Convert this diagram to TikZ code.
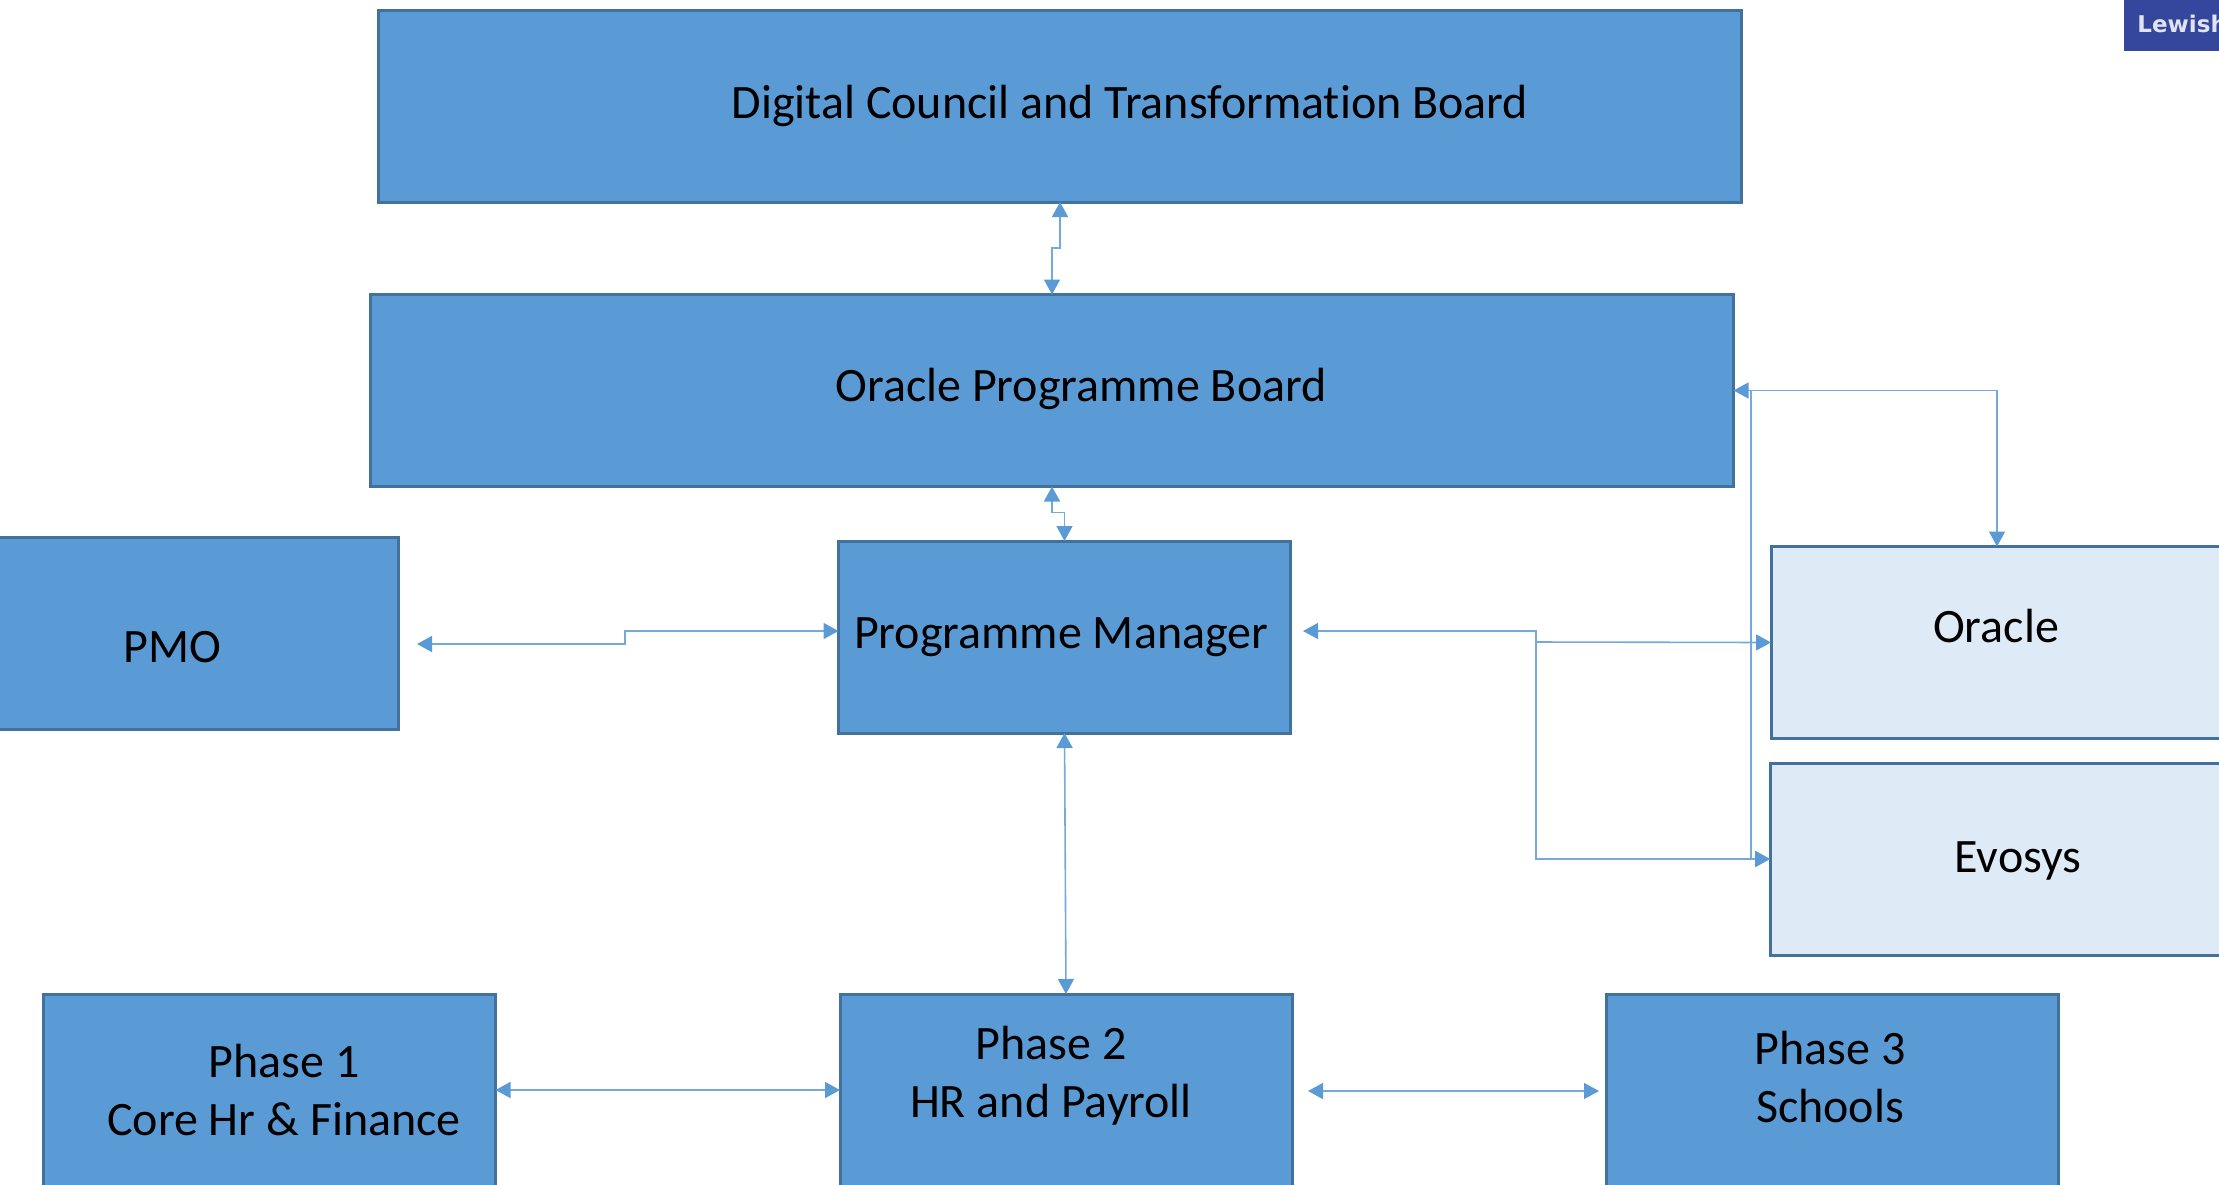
\documentclass[tikz,border=0pt]{standalone}
\usepackage{fontspec}
\setmainfont{Carlito}[Ligatures=NoCommon]
\newfontfamily\logofont{DejaVu Sans}
\usetikzlibrary{arrows.meta}
\definecolor{boxblue}{HTML}{5B9BD5}
\definecolor{boxedge}{HTML}{41719C}
\definecolor{boxlight}{HTML}{DEEAF6}
\definecolor{logoblue}{HTML}{35479C}
\tikzset{
	blockbox/.style={draw=boxedge,fill=boxblue,line width=1.5pt,outer sep=0pt,inner sep=0pt,minimum width=226pt,minimum height=96pt},
	wideblock/.style={blockbox,minimum width=681.5pt},
	lightbox/.style={blockbox,fill=boxlight},
	boxtext/.style={font=\fontsize{24}{29}\selectfont,align=center,inner sep=0pt},
	link/.style={draw=boxblue!85!white,line width=0.8pt,>={Triangle[length=7.5pt,width=8pt,color=boxblue]}}
}
\begin{document}
\begin{tikzpicture}[x=0.5pt,y=-0.5pt]
	\path[use as bounding box,clip] (0,0) rectangle (2219,1184);
	\node[wideblock] (council) at (1060,106) {};
	\node[wideblock] (board) at (1052,390.5) {};
	\node[blockbox] (pmo) at (172.5,633) {};
	\node[blockbox] (manager) at (1064.5,637) {};
	\node[lightbox] (oracle) at (1997,642.5) {};
	\node[lightbox] (evosys) at (1996,859) {};
	\node[blockbox] (phasea) at (269.5,1090) {};
	\node[blockbox] (phaseb) at (1066,1090) {};
	\node[blockbox] (phasec) at (1832.5,1090) {};
	\node[boxtext] (counciltext) at (1130,106) {Digital Council and Transformation Board};
	\node[boxtext] (boardtext) at (1081,389) {Oracle Programme Board};
	\node[boxtext] (pmotext) at (172,647) {PMO};
	\node[boxtext] (managertext) at (1061,637) {Programme Manager};
	\node[boxtext] (oracletext) at (1996,626) {Oracle};
	\node[boxtext] (evosystext) at (2018,861) {Evosys};
	\node[boxtext] (phaseatext) at (284,1090) {Phase 1\\Core Hr \& Finance};
	\node[boxtext] (phasebtext) at (1051,1076) {Phase 2\\HR and Payroll};
	\node[boxtext] (phasectext) at (1830,1077) {Phase 3\\Schools};
	\fill[logoblue] (2124,0) rectangle (2219,51);
	\node[anchor=west,inner sep=0pt,text=white!85!logoblue,font=\logofont\bfseries\fontsize{11.5}{13}\selectfont] (logo) at (2137,24) {Lewisham};
	\coordinate (pmogap) at (417,644);
	\coordinate (managergap) at (1303,631);
	\coordinate (jog) at (1536,642);
	\coordinate (drop) at (1751,390.5);
	\coordinate (phasebgap) at (1308,1091);
	\coordinate (phasecgap) at (1599,1091);
	\draw[link,<->] (council.south) -- ++(0,46) -| (board.north);
	\draw[link,<->] (board.south) -- ++(0,26) -| (manager.north);
	\draw[link,<->] (pmogap) -| (625,631) -- (manager.west |- 0,631);
	\draw[link,<->] (manager.south) -- (phaseb.north);
	\draw[link,<->] (phasea.east) -- (phaseb.west);
	\draw[link,<->] (phasebgap) -- (phasecgap);
	\draw[link,<->] (board.east) -| (oracle.north);
	\draw[link,->] (drop) |- (evosys.west);
	\draw[link,<->] (managergap) -| (jog) -- (oracle.west);
	\draw[link,->] (jog) |- (evosys.west);
\end{tikzpicture}
\end{document}
